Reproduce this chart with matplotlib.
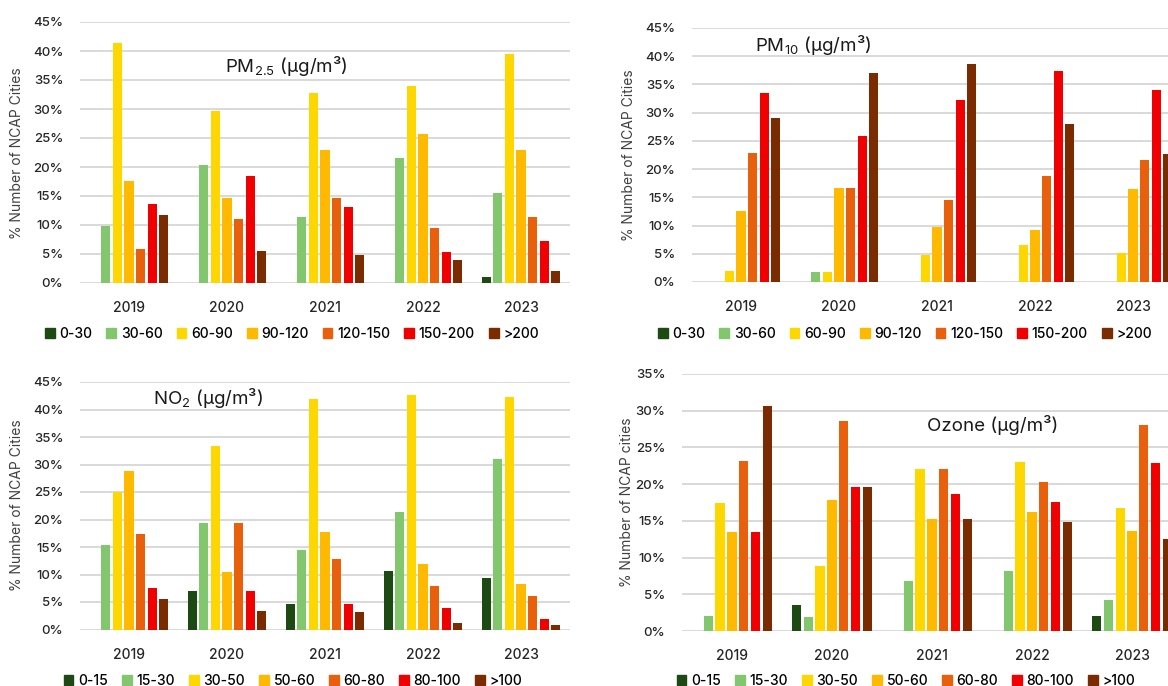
import numpy as np
import matplotlib.pyplot as plt
from matplotlib.patches import Patch

# Data (% of NCAP cities per concentration band)
years = ['2019', '2020', '2021', '2022', '2023']

pm_bins = ['0-30', '30-60', '60-90', '90-120', '120-150', '150-200', '>200']
gas_bins = ['0-15', '15-30', '30-50', '50-60', '60-80', '80-100', '>100']

pm25 = [
    [0, 0, 0, 0, 1.0],
    [9.8, 20.4, 11.4, 21.6, 15.6],
    [41.3, 29.7, 32.8, 33.9, 39.5],
    [17.6, 14.7, 22.9, 25.7, 22.9],
    [5.9, 11.0, 14.7, 9.4, 11.4],
    [13.7, 18.5, 13.1, 5.4, 7.2],
    [11.8, 5.5, 4.8, 4.0, 2.1],
]
pm10 = [
    [0, 0, 0, 0, 0],
    [0, 1.8, 0, 0, 0],
    [2.0, 1.8, 4.8, 6.6, 5.2],
    [12.5, 16.6, 9.7, 9.3, 16.4],
    [22.9, 16.6, 14.5, 18.7, 21.6],
    [33.4, 25.9, 32.3, 37.3, 34.0],
    [29.1, 37.0, 38.7, 28.0, 22.7],
]
no2 = [
    [0, 7.0, 4.7, 10.6, 9.3],
    [15.4, 19.3, 14.5, 21.3, 31.0],
    [25.0, 33.4, 42.0, 42.7, 42.3],
    [28.8, 10.5, 17.7, 12.0, 8.2],
    [17.3, 19.3, 12.9, 7.9, 6.1],
    [7.6, 7.0, 4.7, 3.9, 2.0],
    [5.6, 3.4, 3.1, 1.2, 0.9],
]
ozone = [
    [0, 3.5, 0, 0, 2.1],
    [2.0, 1.9, 6.8, 8.2, 4.2],
    [17.4, 8.9, 22.0, 23.0, 16.7],
    [13.5, 17.9, 15.2, 16.2, 13.6],
    [23.1, 28.6, 22.0, 20.3, 28.1],
    [13.5, 19.6, 18.7, 17.6, 22.9],
    [30.7, 19.6, 15.2, 14.9, 12.5],
]

COLORS = ['#1d4a12', '#82c76d', '#ffd700', '#ffba00', '#e85f0c', '#f00000', '#7a2c00']

W, H = 1168, 686
plt.rcParams['font.family'] = ['Inter', 'DejaVu Sans']

fig = plt.figure(figsize=(W / 100, H / 100), dpi=100)


def px_axes(x0, x1, ytop, ybot):
    return [x0 / W, 1 - ybot / H, (x1 - x0) / W, (ybot - ytop) / H]


def px(x, y):
    return x / W, 1 - y / H


def panel(rect, data, ymax, title, title_xy, ylabel, ylabel_xy, bins, leg_xy):
    ax = fig.add_axes(rect)
    idx = np.arange(len(years))
    step, width = 0.119, 0.092
    for j, vals in enumerate(data):
        ax.bar(idx + (j - 3) * step, vals, width=width, color=COLORS[j], zorder=3)
    ax.set_xlim(-0.5, len(years) - 0.5)
    ax.set_ylim(0, ymax)
    ax.set_yticks(np.arange(0, ymax + 1, 5))
    ax.set_yticklabels([f'{v}%' for v in range(0, ymax + 1, 5)], fontweight='medium')
    ax.set_xticks(idx)
    ax.set_xticklabels(years, fontweight='medium')
    ax.tick_params(axis='y', length=0, pad=12, labelsize=9.5, labelcolor='#262626')
    ax.tick_params(axis='x', length=0, pad=13, labelsize=10, labelcolor='#262626')
    ax.grid(axis='y', color='#d9d9d9', linewidth=1.4, zorder=0)
    for s in ax.spines.values():
        s.set_visible(False)
    fig.text(*px(*title_xy), title, fontsize=13.5, ha='center', va='center', color='#1a1a1a')
    fig.text(*px(*ylabel_xy), ylabel, fontsize=10, rotation=90, ha='center', va='center',
             color='#404040')
    handles = [Patch(color=c, label=b) for c, b in zip(COLORS, bins)]
    fig.legend(handles=handles, loc='center', bbox_to_anchor=px(*leg_xy), ncol=7,
               frameon=False, handlelength=0.7, handleheight=0.7,
               prop={'size': 10, 'weight': 'medium'},
               handletextpad=0.35, columnspacing=1.0, borderpad=0)
    return ax


panel(px_axes(80, 570, 22, 283), pm25, 45, r'PM$_{\mathregular{2.5}}$ (µg/m³)', (286, 66),
      '% Number of NCAP Cities', (17, 153), pm_bins, (292, 334))
panel(px_axes(692, 1182, 28, 282), pm10, 45, r'PM$_{\mathregular{10}}$ (µg/m³)', (813, 45),
      '% Number of NCAP Cities', (629, 155), pm_bins, (905, 334))
panel(px_axes(80, 570, 382, 629.5), no2, 45, r'NO$_{\mathregular{2}}$ (µg/m³)', (208, 398),
      '% Number of NCAP Cities', (17, 505), gas_bins, (293, 681))
panel(px_axes(682, 1182, 374, 631), ozone, 35, 'Ozone (µg/m³)', (993, 425),
      '% Number of NCAP cities', (627, 502), gas_bins, (906, 681))

fig.savefig('out.png', dpi=100)
